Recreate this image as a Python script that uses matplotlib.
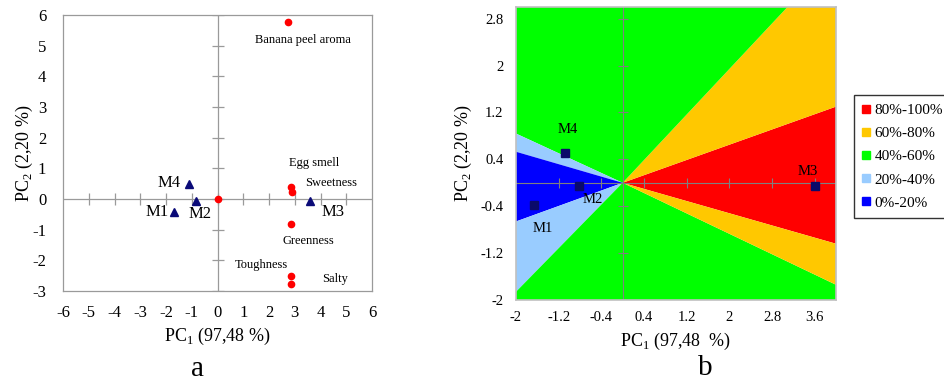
import numpy as np
import matplotlib.pyplot as plt

plt.rcParams['font.family'] = ['Liberation Serif', 'DejaVu Serif']
plt.rcParams['mathtext.fontset'] = 'custom'
plt.rcParams['mathtext.rm'] = 'Liberation Serif'
plt.rcParams['axes.unicode_minus'] = False

# panel a: PCA scores (samples) and loadings (attributes)
samples = ['M1', 'M2', 'M3', 'M4']
samp_x = [-1.7, -0.85, 3.6, -1.1]
samp_y = [-0.42, -0.07, -0.05, 0.49]

attrs = ['', 'Banana peel aroma', 'Egg smell', 'Sweetness', 'Greenness', 'Toughness', 'Salty']
attr_x = [0.0, 2.73, 2.85, 2.88, 2.84, 2.84, 2.84]
attr_y = [0.0, 5.76, 0.40, 0.22, -0.81, -2.52, -2.76]

# panel b: class boundaries (where each boundary ray meets the frame), counterclockwise
bound_x = [4.0, 4.0, 3.09, -2.0, -2.0, -2.0, -2.0, 4.0]
bound_y = [-1.04, 1.30, 3.0, 0.84, 0.53, -0.66, -1.86, -1.74]
region_cls = ['80%-100%', '60%-80%', '40%-60%', '20%-40%', '0%-20%', '20%-40%', '40%-60%', '60%-80%']

classes = ['80%-100%', '60%-80%', '40%-60%', '20%-40%', '0%-20%']
class_colors = ['#ff0000', '#ffc800', '#00ff00', '#99ccff', '#0000ff']

samp_bx = [-1.66, -0.81, 3.6, -1.09]
samp_by = [-0.38, -0.05, -0.05, 0.51]

W, H = 944, 384
fig = plt.figure(figsize=(W / 100, H / 100), dpi=100)

gray = '#9a9a9a'

# ---------- a ----------
ax = fig.add_axes([63 / W, 1 - 291 / H, 309 / W, 276 / H])
ax.set_xlim(-6, 6)
ax.set_ylim(-3, 6)
ax.set_xticks(range(-6, 7))
ax.set_yticks(range(-3, 7))
ax.tick_params(length=0, labelsize=12)
ax.tick_params(axis='x', pad=10)
ax.tick_params(axis='y', pad=12)
for s in ax.spines.values():
    s.set_color(gray)
    s.set_linewidth(0.9)
ax.axhline(0, color=gray, lw=0.9, zorder=1)
ax.axvline(0, color=gray, lw=0.9, zorder=1)
xt = np.arange(-5, 6)
ax.plot(xt, np.zeros(len(xt)), ls='none', marker='|', ms=9, mew=0.9, color=gray, zorder=1)
yt = np.arange(-3, 7)
ax.plot(np.zeros(len(yt)), yt, ls='none', marker='_', ms=9, mew=0.9, color=gray, zorder=1)

ax.plot(samp_x, samp_y, ls='none', marker='^', ms=6, color='#0a0a78', zorder=3)
ax.plot(attr_x, attr_y, ls='none', marker='o', ms=4.5, color='#ff0000', zorder=3)

samp_off = {'M1': (-3.6, 0, 'right'), 'M2': (-5, -9.4, 'left'),
            'M3': (8, -8, 'left'), 'M4': (-5.8, 0.7, 'right')}
for name, x, y in zip(samples, samp_x, samp_y):
    dx, dy, ha = samp_off[name]
    ax.annotate(name, (x, y), xytext=(dx, dy), textcoords='offset points',
                ha=ha, va='center', fontsize=12)

attr_off = {'Banana peel aroma': (-23.5, -13), 'Egg smell': (-1.5, 17),
            'Sweetness': (9.5, 6.6), 'Greenness': (-5.5, -12),
            'Toughness': (-40, 8), 'Salty': (23, 3.5)}
for name, x, y in zip(attrs, attr_x, attr_y):
    if not name:
        continue
    dx, dy = attr_off[name]
    ax.annotate(name, (x, y), xytext=(dx, dy), textcoords='offset points',
                ha='left', va='center', fontsize=9)

ax.set_xlabel(r'PC$_{\mathrm{1}}$ (97,48 %)', fontsize=13)
ax.set_ylabel(r'PC$_{\mathrm{2}}$ (2,20 %)', fontsize=13)
ax.xaxis.set_label_coords(0.5, -0.125)
ax.yaxis.set_label_coords(-0.09, 0.5)

# ---------- b ----------
bx = fig.add_axes([516 / W, 1 - 300 / H, 320 / W, 293 / H])
xmin, xmax, ymin, ymax = -2, 4, -2, 3
bx.set_xlim(xmin, xmax)
bx.set_ylim(ymin, ymax)

corners = np.array([[xmax, ymax], [xmin, ymax], [xmin, ymin], [xmax, ymin]])
corner_ang = np.mod(np.arctan2(corners[:, 1], corners[:, 0]), 2 * np.pi)
b_ang = np.mod(np.arctan2(bound_y, bound_x), 2 * np.pi)
n = len(bound_x)
for i in range(n):
    j = (i + 1) % n
    a0, a1 = b_ang[i], b_ang[j]
    span = np.mod(a1 - a0, 2 * np.pi)
    rel = np.mod(corner_ang - a0, 2 * np.pi)
    inside = np.where(rel < span)[0]
    inside = inside[np.argsort(rel[inside])]
    pts = [(0, 0), (bound_x[i], bound_y[i])]
    pts += [tuple(corners[k]) for k in inside]
    pts += [(bound_x[j], bound_y[j])]
    pts = np.array(pts)
    col = class_colors[classes.index(region_cls[i])]
    bx.fill(pts[:, 0], pts[:, 1], color=col, lw=0, zorder=1)

bx.set_xticks([-2, -1.2, -0.4, 0.4, 1.2, 2, 2.8, 3.6])
bx.set_yticks([-2, -1.2, -0.4, 0.4, 1.2, 2, 2.8])
bx.set_xticklabels(['-2', '-1.2', '-0.4', '0.4', '1.2', '2', '2.8', '3.6'])
bx.set_yticklabels(['-2', '-1.2', '-0.4', '0.4', '1.2', '2', '2.8'])
bx.tick_params(length=0, labelsize=10.5)
bx.tick_params(axis='x', pad=8)
bx.tick_params(axis='y', pad=9)
for s in bx.spines.values():
    s.set_color('#c0c0c0')
    s.set_linewidth(1.2)
bx.axhline(0, color='#808080', lw=0.8, zorder=2)
bx.axvline(0, color='#808080', lw=0.8, zorder=2)
xtb = np.array([-1.2, -0.4, 0.4, 1.2, 2, 2.8, 3.6])
bx.plot(xtb, np.zeros(len(xtb)), ls='none', marker='|', ms=7, mew=0.8, color='#808080', zorder=2)
ytb = np.array([-1.2, -0.4, 0.4, 1.2, 2, 2.8])
bx.plot(np.zeros(len(ytb)), ytb, ls='none', marker='_', ms=7, mew=0.8, color='#808080', zorder=2)

bx.plot(samp_bx, samp_by, ls='none', marker='s', ms=5.5, color='#0a0a6a', zorder=3)
samp_boff = {'M1': (-1, -16.6, 'left'), 'M2': (2.5, -10, 'left'),
             'M3': (-5, 10, 'center'), 'M4': (2.2, 16.6, 'center')}
for name, x, y in zip(samples, samp_bx, samp_by):
    dx, dy, ha = samp_boff[name]
    bx.annotate(name, (x, y), xytext=(dx, dy), textcoords='offset points',
                ha=ha, va='center', fontsize=10.5)

bx.set_xlabel(r'PC$_{\mathrm{1}}$ (97,48  %)', fontsize=13)
bx.set_ylabel(r'PC$_{\mathrm{2}}$ (2,20 %)', fontsize=13)
bx.xaxis.set_label_coords(0.5, -0.105)
bx.yaxis.set_label_coords(-0.13, 0.5)

handles = [plt.Line2D([], [], ls='none', marker='s', ms=5.5, color=c) for c in class_colors]
leg = fig.legend(handles, classes, loc='upper left', bbox_to_anchor=(854 / W, 1 - 95 / H),
                 frameon=True, fancybox=False, fontsize=11, handlelength=0.5,
                 handletextpad=0.3, labelspacing=0.62, borderpad=0.55, borderaxespad=0)
leg.get_frame().set_edgecolor('black')
leg.get_frame().set_linewidth(1.0)

fig.text(197 / W, 1 - 369 / H, 'a', ha='center', va='center', fontsize=21)
fig.text(705 / W, 1 - 368 / H, 'b', ha='center', va='center', fontsize=21)

fig.savefig('out.png', dpi=100)
